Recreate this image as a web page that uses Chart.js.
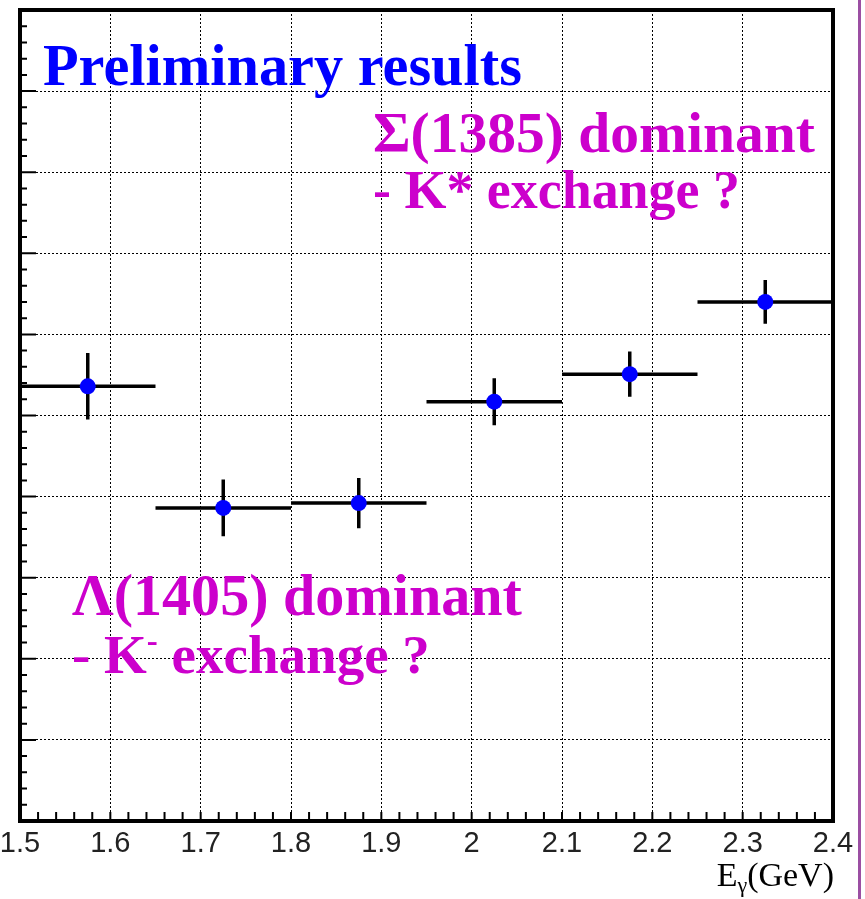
<!DOCTYPE html>
<html>
<head>
<meta charset="utf-8">
<script src="https://cdn.jsdelivr.net/npm/chart.js@4"></script>
<style>
  body { margin: 0; background: #fff; }
  canvas { display: block; }
</style>
</head>
<body>
<canvas id="chart" width="865" height="899"></canvas>
<script>
// bins in E_gamma (GeV) and measured values (y axis has no labels, read as 0..1)
const binLow = [1.5, 1.65, 1.8, 1.95, 2.1, 2.25];
const binHigh = [1.65, 1.8, 1.95, 2.1, 2.25, 2.4];
const binCenter = [1.575, 1.725, 1.875, 2.025, 2.175, 2.325];
const values = [0.536, 0.386, 0.392, 0.517, 0.551, 0.640];
const errors = [0.041, 0.035, 0.031, 0.029, 0.028, 0.027];

const xTickValues = [1.5, 1.6, 1.7, 1.8, 1.9, 2.0, 2.1, 2.2, 2.3, 2.4];
const xTickLabels = ['1.5', '1.6', '1.7', '1.8', '1.9', '2', '2.1', '2.2', '2.3', '2.4'];
const yTickValues = [0, 0.1, 0.2, 0.3, 0.4, 0.5, 0.6, 0.7, 0.8, 0.9, 1.0];

const serif = '"Liberation Serif", "DejaVu Serif", serif';

// draws a line of text made of runs (normal / sup), scaled to a target width
const drawRuns = (ctx, runs, x, baseline, size, color, targetWidth) => {
    const runFont = (r, s) => `bold ${r.sup ? s * 0.6 : s}px ${serif}`;
    const measure = (s) => runs.reduce((w, r) => {
        ctx.font = runFont(r, s);
        return w + ctx.measureText(r.t).width;
    }, 0);
    let s = size;
    if (targetWidth) s = size * targetWidth / measure(size);
    ctx.fillStyle = color;
    ctx.textBaseline = 'alphabetic';
    ctx.textAlign = 'left';
    let cx = x;
    runs.forEach((r) => {
        ctx.font = runFont(r, s);
        ctx.fillText(r.t, cx, baseline + (r.sup ? -s * 0.38 : 0));
        cx += ctx.measureText(r.t).width;
    });
};

const decorations = {
    id: 'decorations',
    beforeDatasetsDraw(chart) {
        const { ctx, scales: { x, y } } = chart;
        ctx.save();
        ctx.strokeStyle = '#000';
        ctx.lineWidth = 3.5;
        values.forEach((v, i) => {
            const py = y.getPixelForValue(v);
            const px = x.getPixelForValue(binCenter[i]);
            ctx.beginPath();
            ctx.moveTo(x.getPixelForValue(binLow[i]), py);
            ctx.lineTo(x.getPixelForValue(binHigh[i]), py);
            ctx.moveTo(px, y.getPixelForValue(v - errors[i]));
            ctx.lineTo(px, y.getPixelForValue(v + errors[i]));
            ctx.stroke();
        });
        ctx.restore();
    },
    afterDatasetsDraw(chart) {
        const { ctx, chartArea: a, scales: { x, y } } = chart;
        ctx.save();
        ctx.strokeStyle = '#000';
        // small ticks inside the frame
        ctx.lineWidth = 2;
        ctx.beginPath();
        for (let k = 0; k <= 50; k++) {
            const py = y.getPixelForValue(k * 0.02);
            ctx.moveTo(a.left, py);
            ctx.lineTo(a.left + (k % 5 === 0 ? 16 : 7), py);
        }
        for (let k = 0; k <= 45; k++) {
            const px = x.getPixelForValue(1.5 + k * 0.02);
            ctx.moveTo(px, a.bottom);
            ctx.lineTo(px, a.bottom - 9);
        }
        ctx.stroke();
        // frame
        ctx.lineWidth = 4;
        ctx.strokeRect(a.left, a.top, a.right - a.left, a.bottom - a.top);
        ctx.restore();
    },
    afterDraw(chart) {
        const { ctx } = chart;
        ctx.save();
        drawRuns(ctx, [{ t: 'Preliminary results' }], 43, 85, 48, '#0000ff', 479);
        drawRuns(ctx, [{ t: 'Σ(1385) dominant' }], 373, 152, 50, '#cc00cc', 442);
        drawRuns(ctx, [{ t: '- K* exchange ?' }], 373, 208, 50, '#cc00cc', 367);
        drawRuns(ctx, [{ t: 'Λ(1405) dominant' }], 72, 615, 50, '#cc00cc', 450);
        drawRuns(ctx, [{ t: '- K' }, { t: '-', sup: true }, { t: ' exchange ?' }], 72, 673, 50, '#cc00cc', 358);

        // axis title E_gamma (GeV), right aligned to the frame
        ctx.fillStyle = '#000';
        ctx.textBaseline = 'alphabetic';
        const parts = [['E', 34, 0], ['γ', 22, 6], ['(GeV)', 34, 0]];
        let w = 0;
        parts.forEach(([t, s]) => { ctx.font = `${s}px ${serif}`; w += ctx.measureText(t).width; });
        let cx = chart.chartArea.right + 1 - w;
        parts.forEach(([t, s, dy]) => {
            ctx.font = `${s}px ${serif}`;
            ctx.fillText(t, cx, 886 + dy);
            cx += ctx.measureText(t).width;
        });

        // purple slide border on the right
        ctx.strokeStyle = '#9b4fa3';
        ctx.lineWidth = 3;
        ctx.beginPath();
        ctx.moveTo(859.5, 0);
        ctx.lineTo(859.5, 899);
        ctx.stroke();
        ctx.restore();
    }
};

const chartDOM = document.getElementById('chart');
new Chart(chartDOM, {
    type: 'scatter',
    data: {
        datasets: [{
            data: binCenter.map((c, i) => ({ x: c, y: values[i] })),
            backgroundColor: '#0000ff',
            borderColor: '#0000ff',
            pointRadius: 8,
            pointHoverRadius: 8,
            borderWidth: 0
        }]
    },
    options: {
        responsive: false,
        animation: false,
        devicePixelRatio: 1,
        events: [],
        layout: { padding: { left: 20, right: 32, top: 10, bottom: 0 } },
        plugins: { legend: { display: false }, tooltip: { enabled: false } },
        scales: {
            x: {
                type: 'linear',
                min: 1.5,
                max: 2.4,
                afterBuildTicks: (scale) => { scale.ticks = xTickValues.map((v) => ({ value: v })); },
                afterFit: (scale) => {
                    scale.height = 78;
                    scale.paddingLeft = 0;
                    scale.paddingRight = 0;
                },
                ticks: {
                    callback: (v) => xTickLabels[xTickValues.findIndex((t) => Math.abs(t - v) < 1e-6)],
                    font: { family: '"Liberation Sans", Arial, sans-serif', size: 29 },
                    color: '#222',
                    padding: 6,
                    maxRotation: 0,
                    autoSkip: false
                },
                grid: { color: '#000', lineWidth: 1, drawTicks: false },
                border: { display: false, dash: [2, 2] }
            },
            y: {
                min: 0,
                max: 1,
                afterBuildTicks: (scale) => { scale.ticks = yTickValues.map((v) => ({ value: v })); },
                afterFit: (scale) => {
                    scale.width = 0;
                    scale.paddingTop = 0;
                    scale.paddingBottom = 0;
                },
                ticks: { display: false },
                grid: { color: '#000', lineWidth: 1, drawTicks: false },
                border: { display: false, dash: [2, 2] }
            }
        }
    },
    plugins: [decorations]
});
</script>
</body>
</html>
